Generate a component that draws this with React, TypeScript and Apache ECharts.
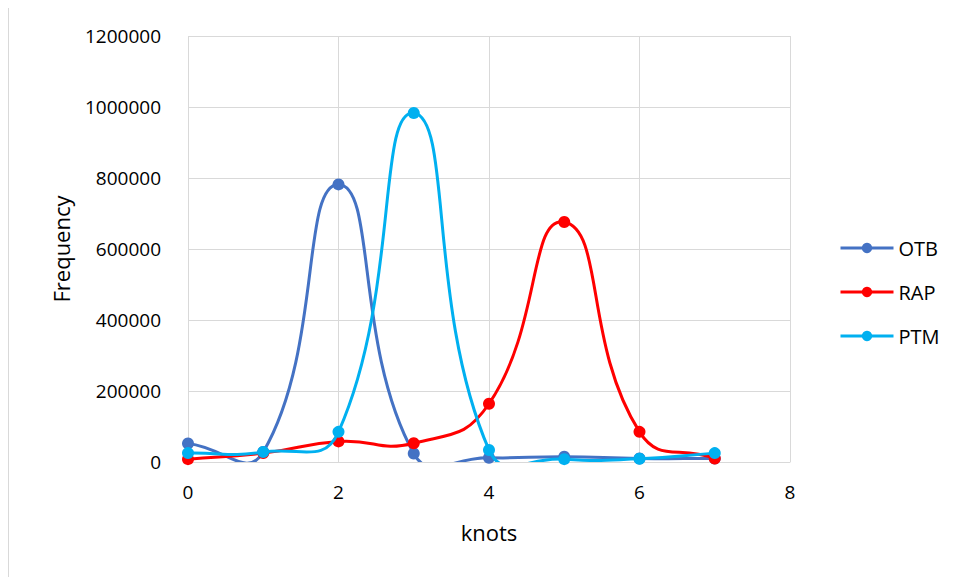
import React, { useEffect, useRef } from "react";
import * as echarts from "echarts";

const knots = [0, 1, 2, 3, 4, 5, 6, 7];
const otb = [52000, 28000, 782000, 24000, 12000, 15000, 10000, 10000];
const rap = [8000, 25000, 58000, 53000, 164000, 676000, 85000, 10000];
const ptm = [25000, 28000, 85000, 983000, 34000, 8000, 9000, 25000];
const seriesNames = ["OTB", "RAP", "PTM"];
const seriesColors = ["#4472C4", "#FF0000", "#00B0F0"];
const yTicks = [0, 200000, 400000, 600000, 800000, 1000000, 1200000];
const xTicks = [0, 2, 4, 6, 8];

export default function App() {
  const ref = useRef<HTMLDivElement>(null);
  useEffect(() => {
    if (!ref.current) return;
    const chart = echarts.init(ref.current, null, { renderer: "svg" });
    const font = "'Open Sans', 'Noto Sans', sans-serif";
    const datas = [otb, rap, ptm];
    const n = knots.length;
    const t = 0.5;

    const ctrl = (A: number[], B: number[], C: number[]) => {
      // control points around B given neighbours A and C (length-weighted)
      const dAB = Math.hypot(B[0] - A[0], B[1] - A[1]);
      const dBC = Math.hypot(C[0] - B[0], C[1] - B[1]);
      const sum = dAB + dBC || 1;
      const fa = (t * dAB) / sum;
      const fb = (t * dBC) / sum;
      const vx = C[0] - A[0];
      const vy = C[1] - A[1];
      return {
        before: [B[0] - fa * vx, B[1] - fa * vy],
        after: [B[0] + fb * vx, B[1] + fb * vy],
      };
    };

    const curveSeries = datas.map((d, s) => ({
      name: seriesNames[s] + "_curve",
      type: "custom",
      clip: true,
      z: 2 + 2 * s,
      silent: true,
      encode: { x: 0, y: 1 },
      data: knots.map((k, j) => [k, d[j]]),
      renderItem: (params: any, api: any) => {
        const i = params.dataIndex;
        if (i >= n - 1) return null;
        const cl = (k: number) => Math.max(0, Math.min(n - 1, k));
        const p = (k: number) => api.coord([knots[cl(k)], d[cl(k)]]);
        const P0 = p(i - 1);
        const P1 = p(i);
        const P2 = p(i + 1);
        const P3 = p(i + 2);
        const c1 = ctrl(P0, P1, P2).after;
        const c2 = ctrl(P1, P2, P3).before;
        return {
          type: "bezierCurve",
          shape: {
            x1: P1[0],
            y1: P1[1],
            x2: P2[0],
            y2: P2[1],
            cpx1: c1[0],
            cpy1: c1[1],
            cpx2: c2[0],
            cpy2: c2[1],
          },
          style: { stroke: seriesColors[s], lineWidth: 3, fill: "none", lineCap: "round" },
        };
      },
    }));

    const markerSeries = seriesNames.map((name, i) => ({
      name,
      type: "line",
      symbol: "circle",
      symbolSize: 12,
      color: seriesColors[i],
      lineStyle: { width: 3, color: seriesColors[i], opacity: 0 },
      itemStyle: { color: seriesColors[i] },
      data: knots.map((k, j) => [k, datas[i][j]]),
      z: 3 + 2 * i,
    }));

    chart.setOption({
      animation: false,
      backgroundColor: "#fff",
      textStyle: { fontFamily: font },
      grid: { left: 180, right: 166, top: 30, bottom: 115, containLabel: false },
      legend: {
        orient: "vertical",
        left: 826,
        top: 227,
        itemWidth: 53,
        itemHeight: 13,
        itemGap: 24,
        lineStyle: { width: 3, opacity: 1 },
        textStyle: { fontSize: 20, color: "#000", fontFamily: font },
        data: seriesNames,
      },
      xAxis: {
        type: "value",
        min: xTicks[0],
        max: xTicks[xTicks.length - 1],
        interval: 2,
        name: "knots",
        nameLocation: "middle",
        nameGap: 59,
        nameTextStyle: { fontSize: 22, color: "#000", fontFamily: font },
        axisLine: { show: true, lineStyle: { color: "#d9d9d9", width: 1 } },
        axisTick: { show: false },
        axisLabel: { fontSize: 19, color: "#000", margin: 20, fontFamily: font },
        splitLine: { show: true, lineStyle: { color: "#d9d9d9", width: 1 } },
      },
      yAxis: {
        type: "value",
        min: yTicks[0],
        max: yTicks[yTicks.length - 1],
        interval: 200000,
        name: "Frequency",
        nameLocation: "middle",
        nameGap: 116,
        nameRotate: 90,
        nameTextStyle: { fontSize: 22, color: "#000", fontFamily: font },
        axisLine: { show: false },
        axisTick: { show: false },
        axisLabel: {
          fontSize: 19,
          color: "#000",
          margin: 27,
          fontFamily: font,
          formatter: (v: number) => String(v),
        },
        splitLine: { show: true, lineStyle: { color: "#d9d9d9", width: 1 } },
      },
      series: [...markerSeries, ...curveSeries],
      graphic: [
        {
          type: "rect",
          shape: { x: 0, y: 0, width: 1200, height: 1200 },
          style: { fill: "none", stroke: "#d9d9d9", lineWidth: 2 },
          silent: true,
        },
      ],
    });
    return () => chart.dispose();
  }, []);
  return <div ref={ref} style={{ width: 948, height: 571, marginTop: -2 }} />;
}
